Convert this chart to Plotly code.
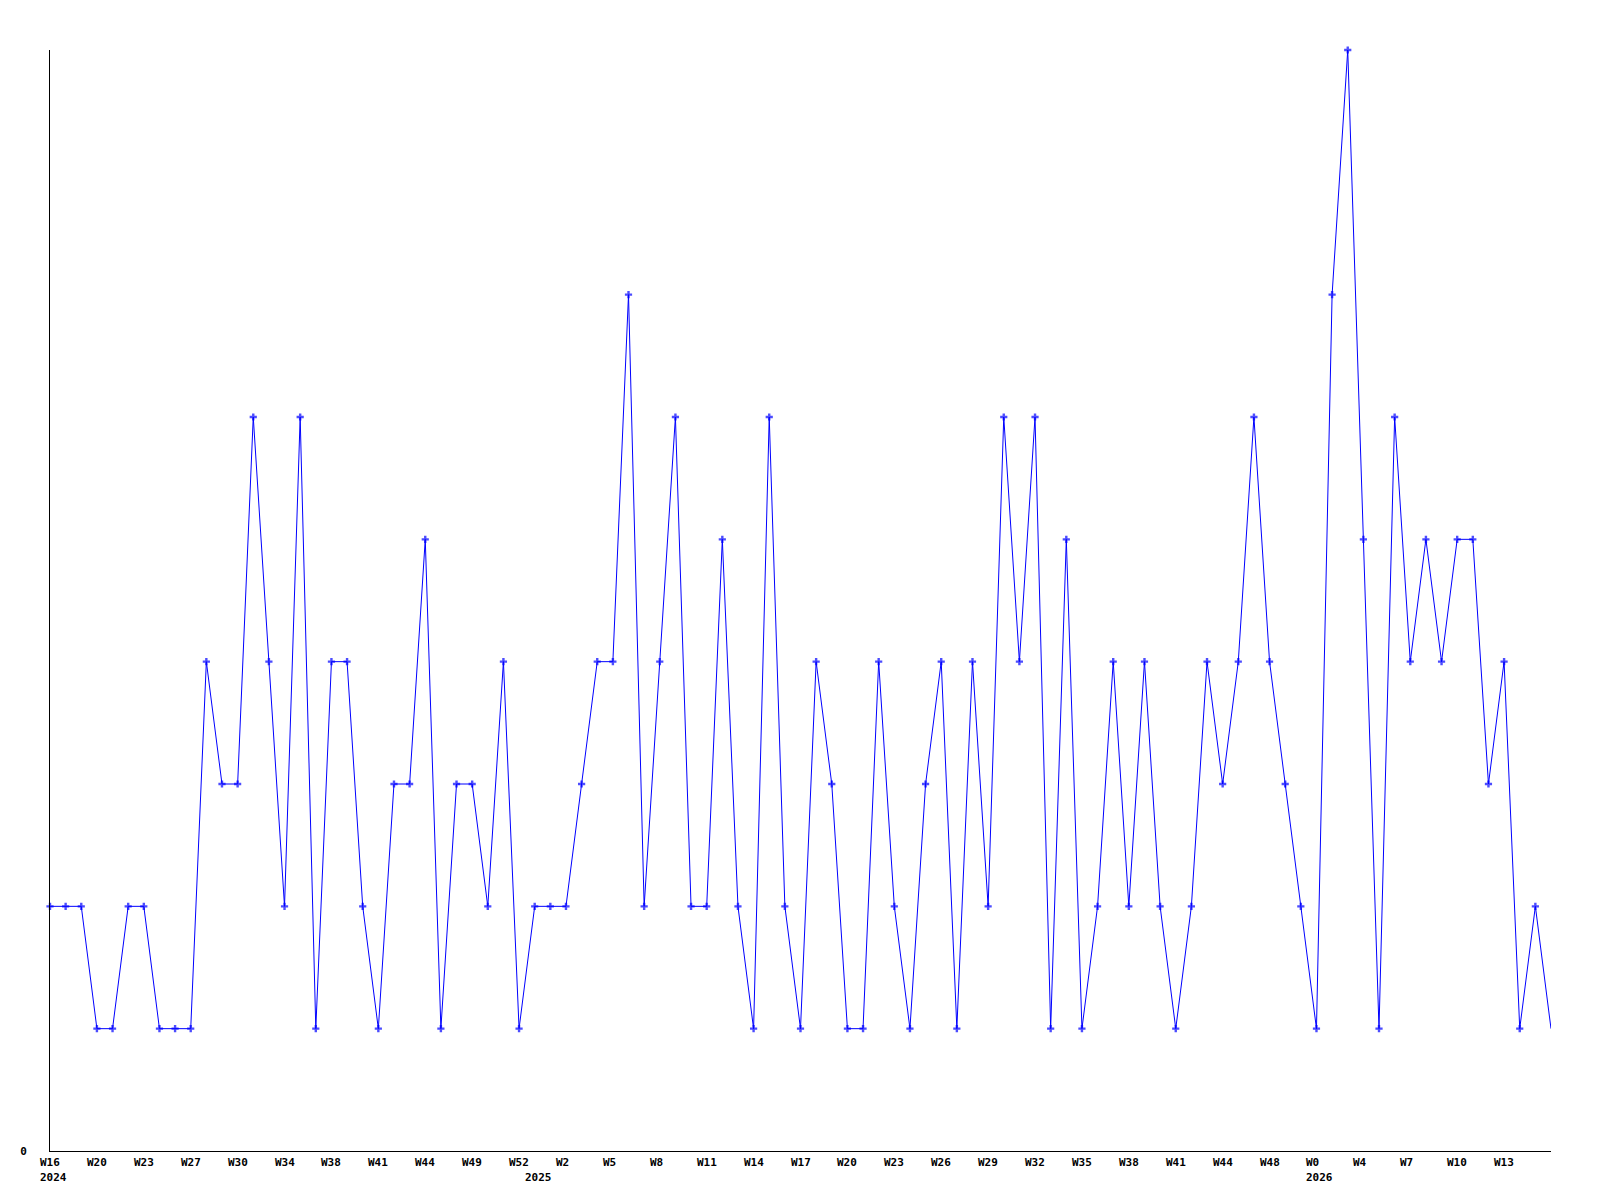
import plotly.graph_objects as go

# weekly counts, W16 2024 .. W15 2026 (97 weeks)
values = [2, 2, 2, 1, 1, 2, 2, 1, 1, 1,
          4, 3, 3, 6, 4, 2, 6, 1, 4, 4,
          2, 1, 3, 3, 5, 1, 3, 3, 2, 4,
          1, 2, 2, 2, 3, 4, 4, 7, 2, 4,
          6, 2, 2, 5, 2, 1, 6, 2, 1, 4,
          3, 1, 1, 4, 2, 1, 3, 4, 1, 4,
          2, 6, 4, 6, 1, 5, 1, 2, 4, 2,
          4, 2, 1, 2, 4, 3, 4, 6, 4, 3,
          2, 1, 7, 9, 5, 1, 6, 4, 5, 4,
          5, 5, 3, 4, 1, 2, 1]

week_tick_idx = list(range(0, 96, 3))
week_tick_text = ["W16", "W20", "W23", "W27", "W30", "W34", "W38", "W41", "W44", "W49",
                  "W52", "W2", "W5", "W8", "W11", "W14", "W17", "W20", "W23", "W26",
                  "W29", "W32", "W35", "W38", "W41", "W44", "W48", "W0", "W4", "W7",
                  "W10", "W13"]
year_idx = [0, 31, 81]
year_text = ["2024", "2025", "2026"]

x = list(range(len(values)))
marker_sizes = [6] * (len(values) - 1) + [0]

fig = go.Figure()
fig.add_trace(go.Scatter(
    x=x, y=values, mode="lines+markers",
    line=dict(color="#0000ff", width=1),
    marker=dict(symbol="cross", size=marker_sizes, color="#0000ff", line=dict(width=0)),
    cliponaxis=False, showlegend=False,
))

font = dict(family="DejaVu Sans Mono", size=11, color="#000000")
annotations = []
for i, t in zip(week_tick_idx, week_tick_text):
    annotations.append(dict(x=i, y=0, xref="x", yref="paper", text="<b>%s</b>" % t,
                            showarrow=False, xanchor="left", yanchor="middle",
                            xshift=-12, yshift=-11, font=font))
for i, t in zip(year_idx, year_text):
    annotations.append(dict(x=i, y=0, xref="x", yref="paper", text="<b>%s</b>" % t,
                            showarrow=False, xanchor="left", yanchor="middle",
                            xshift=-12, yshift=-26, font=font))

fig.update_layout(
    width=1584, height=1184, autosize=False,
    margin=dict(l=42, r=41, t=42, b=41, pad=0),
    paper_bgcolor="white", plot_bgcolor="white",
    annotations=annotations,
    xaxis=dict(range=[0, 96], showgrid=False, zeroline=False, showline=True,
               linecolor="black", linewidth=1, showticklabels=False, ticks=""),
    yaxis=dict(range=[0, 9], showgrid=False, zeroline=False, showline=True,
               linecolor="black", linewidth=1, tickvals=[0], ticktext=["<b>0</b>"],
               ticks="outside", ticklen=20, tickcolor="rgba(0,0,0,0)",
               tickfont=font),
)

fig.write_html("out.html")
